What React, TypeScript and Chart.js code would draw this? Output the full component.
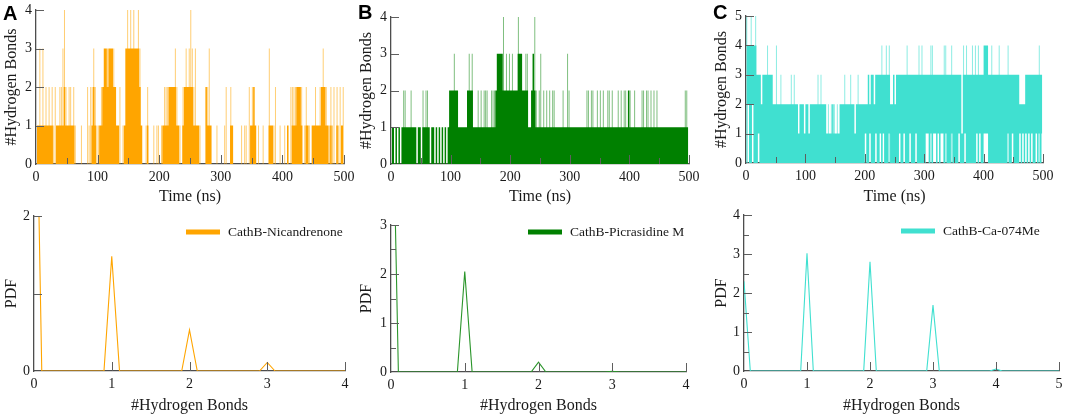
import React, { useEffect, useRef } from "react";
import { Chart, registerables } from "chart.js";

Chart.register(...registerables);

// ---- values ----
// Time traces are binned every 2.5 ns, one digit per bin, 50 bins (125 ns) per row.
// *Solid = top of the dense band, *Spike = highest short excursion in the bin,
// caFloor = bottom of the dense band (white gap below it).
const BIN_NS = 2.5;
const BINS_PER_ROW = 50;

const timeTicks = [0, 100, 200, 300, 400, 500];

const nicSolid = [
    "1111111111 1001111121 1111100000 0000001210 0112332333",
    "2211000133 3333333210 0010000000 0011112222 2110012222",
    "2211110000 2111000000 0000001100 0000000001 1210000000",
    "0111000000 0001001112 2210011001 1111122211 0100010011",
];
const nicSpike = [
    "1131312121 2121122342 1221210001 0002122321 1122333333",
    "3211201134 3434334310 0120001011 0112222222 3211022323",
    "4323111000 2231000100 0012002100 0001011021 2210100100",
    "0311120010 0101022222 2220121101 1211223221 1212021212",
];

const picSolid = [
    "1101010111 1111111011 0111110110 1010101012 2222211111",
    "1222211111 1111111111 2333322222 2222233322 2211232111",
    "1111111111 1111111111 1111111111 1111111111 1111111111",
    "1111111112 1111111111 1111111111 1111111111 1111111111",
];
const picSpike = [
    "1101010122 1112111011 0212210110 1010101012 2232211111",
    "1232311121 2122211222 2333342323 2322243322 3311234212",
    "3121212122 1111121132 1111111111 1221221121 2121122121",
    "1121212212 2112111122 1221212121 1111111111 1111111221",
];

const caSolid = [
    "4444444333 2333333322 2222222222 2222212221 2212222222",
    "2222111121 1112222222 2221222222 2232332333 3333333223",
    "2333333333 3333333333 3333333333 3333333333 3333313333",
    "3333333333 4443333333 3333333333 3333222233 3333333333",
];
const caFloor = [
    "0200200010 0000000000 0000000000 0000000000 0000000000",
    "0000000000 0000000000 0000000000 1001000100 1010001000",
    "0001001000 1000100000 0110101101 0110100010 0001000100",
    "0000010100 1110000000 0000001001 0000101010 1010010101",
];
const caSpike = [
    "5445445333 2333433322 4223222222 3232212221 2212222232",
    "3222121222 1212223222 3221232222 2232332333 3433434223",
    "2333333343 3333334343 3333443333 3334433343 3333314343",
    "3343434333 4443343333 4333334333 3333222233 3333333433",
];

// probability density of the bond count
const pdfBonds = [0, 0.1, 0.9, 1, 1.1, 1.9, 2, 2.1, 2.9, 3, 3.1, 3.9, 4, 4.1, 5];
const pdfNic = [5.6, 0, 0, 1.48, 0, 0, 0.53, 0, 0, 0.11, 0, 0, 0, 0, 0];
const pdfPic = [7.5, 0, 0, 2.05, 0, 0, 0.2, 0, 0, 0.015, 0, 0, 0, 0, 0];
const pdfCa = [2.3, 0, 0, 3.02, 0, 0, 2.8, 0, 0, 1.69, 0, 0, 0.05, 0, 0];

// ---- styling ----
const INK = "#1a1a1a";
const AXIS = "#4d4d4d";
const TICK = "#5e5e5e";

Chart.defaults.font.family = "'Liberation Serif', 'Times New Roman', serif";
Chart.defaults.color = INK;

const digits = (rows: string[]) =>
    rows.map((r) => r.replace(/\s+/g, "").split("").map(Number));

const binX = (r: number, j: number) => (r * BINS_PER_ROW + j + 0.5) * BIN_NS;

function levelData(rows: string[]) {
    const out: { x: number; y: number }[] = [];
    digits(rows).forEach((row, r) => row.forEach((v, j) => out.push({ x: binX(r, j), y: v })));
    return out;
}

function spikeData(spike: string[], solid: string[]) {
    const p = digits(spike);
    const s = digits(solid);
    const out: { x: number; y: number[] }[] = [];
    p.forEach((row, r) =>
        row.forEach((v, j) => {
            if (v > (s[r][j] ?? 0)) out.push({ x: binX(r, j), y: [0, v] });
        })
    );
    return out;
}

const midpoints = (t: number[]) => t.slice(1).map((v, i) => (v + t[i]) / 2);
const range = (lo: number, hi: number, step: number) => {
    const out: number[] = [];
    for (let v = lo; v <= hi + 1e-9; v += step) out.push(v);
    return out;
};

type Box = { left: number; top: number; width: number; height: number };
type Plot = { left: number; top: number; right: number; bottom: number };

function innerTicks(xMajor: number[], xMinor: number[], yMajor: number[], yMinor: number[]) {
    return {
        id: "innerTicks",
        afterDatasetsDraw(chart: any) {
            const { ctx, chartArea: a, scales } = chart;
            ctx.save();
            ctx.strokeStyle = TICK;
            ctx.lineWidth = 1;
            ctx.beginPath();
            const vx = (v: number, len: number) => {
                const p = Math.round(scales.x.getPixelForValue(v)) + 0.5;
                ctx.moveTo(p, a.bottom);
                ctx.lineTo(p, a.bottom - len);
            };
            const hy = (v: number, len: number) => {
                const p = Math.round(scales.y.getPixelForValue(v)) + 0.5;
                ctx.moveTo(a.left, p);
                ctx.lineTo(a.left + len, p);
            };
            xMajor.forEach((v) => vx(v, 9));
            xMinor.forEach((v) => vx(v, 6));
            yMajor.forEach((v) => hy(v, 8));
            yMinor.forEach((v) => hy(v, 5));
            ctx.stroke();
            ctx.restore();
        },
    };
}

function lineLegend(label: string, color: string, dx: number, dy: number) {
    return {
        id: "lineLegend",
        afterDraw(chart: any) {
            const { ctx, chartArea: a } = chart;
            const x = a.left + dx;
            const y = a.top + dy;
            ctx.save();
            ctx.strokeStyle = color;
            ctx.lineWidth = 5;
            ctx.beginPath();
            ctx.moveTo(x, y);
            ctx.lineTo(x + 34, y);
            ctx.stroke();
            ctx.fillStyle = INK;
            ctx.font = "13.5px 'Liberation Serif'";
            ctx.textBaseline = "middle";
            ctx.fillText(label, x + 42, y + 0.5);
            ctx.restore();
        },
    };
}

function axes(
    box: Box,
    plot: Plot,
    xMax: number,
    xStep: number,
    yMax: number,
    xTitle: string,
    yTitle: string,
    yLabel?: (v: number) => string
) {
    const yWidth = plot.left - box.left;
    const xHeight = box.top + box.height - plot.bottom;
    return {
        layout: {
            padding: {
                left: 0,
                top: plot.top - box.top,
                right: box.left + box.width - plot.right,
                bottom: 0,
            },
        },
        scales: {
            x: {
                type: "linear",
                min: 0,
                max: xMax,
                offset: false,
                z: 1,
                grid: { display: false, drawTicks: false },
                border: { display: true, color: AXIS, width: 1.3 },
                ticks: {
                    stepSize: xStep,
                    padding: 5,
                    maxRotation: 0,
                    autoSkip: false,
                    color: INK,
                    font: { size: 14 },
                },
                title: {
                    display: true,
                    text: xTitle,
                    color: INK,
                    font: { size: 16 },
                    padding: { top: 2, bottom: 2 },
                },
                afterFit: (s: any) => {
                    s.height = xHeight;
                    s.paddingLeft = 0;
                    s.paddingRight = 0;
                },
            },
            y: {
                type: "linear",
                min: 0,
                max: yMax,
                z: 1,
                grid: { display: false, drawTicks: false },
                border: { display: true, color: AXIS, width: 1.3 },
                ticks: {
                    stepSize: 1,
                    padding: 4,
                    color: INK,
                    font: { size: 14 },
                    callback: yLabel ? (v: any) => yLabel(Number(v)) : (v: any) => String(v),
                },
                title: {
                    display: true,
                    text: yTitle,
                    color: INK,
                    font: { size: 16 },
                    padding: { top: 1, bottom: 1 },
                },
                afterFit: (s: any) => {
                    s.width = yWidth;
                    s.paddingTop = 0;
                    s.paddingBottom = 0;
                },
            },
        },
    };
}

function traceConfig(
    box: Box,
    plot: Plot,
    solid: string[],
    spike: string[],
    floor: string[] | undefined,
    color: string,
    light: string,
    yMax: number
) {
    const ax = axes(box, plot, 500, 100, yMax, "Time (ns)", "#Hydrogen Bonds");
    const datasets: any[] = [
        {
            type: "line",
            data: levelData(solid),
            stepped: "middle",
            borderWidth: 0,
            pointRadius: 0,
            backgroundColor: color,
            fill: floor ? 1 : "origin",
            order: 1,
        },
    ];
    if (floor) {
        datasets.push({
            type: "line",
            data: levelData(floor),
            stepped: "middle",
            borderWidth: 0,
            pointRadius: 0,
            fill: false,
            order: 1,
        });
    }
    datasets.push({
        type: "bar",
        data: spikeData(spike, solid),
        backgroundColor: light,
        borderWidth: 0,
        grouped: false,
        barThickness: 1,
        inflateAmount: 0,
        order: 2,
    });
    return {
        type: "bar",
        data: { datasets },
        options: {
            animation: false,
            responsive: false,
            events: [],
            ...ax,
            plugins: { legend: { display: false }, tooltip: { enabled: false } },
        },
        plugins: [
            innerTicks(timeTicks.slice(1), midpoints(timeTicks), range(1, yMax, 1), []),
        ],
    };
}

function pdfConfig(
    box: Box,
    plot: Plot,
    values: number[],
    color: string,
    keyColor: string,
    xMax: number,
    yMax: number,
    label: string,
    legendAt: [number, number],
    yMinor: number[],
    yLabel?: (v: number) => string
) {
    const ax = axes(box, plot, xMax, 1, yMax, "#Hydrogen Bonds", "PDF", yLabel);
    return {
        type: "line",
        data: {
            datasets: [
                {
                    data: pdfBonds.map((b, i) => ({ x: b, y: values[i] })),
                    borderColor: color,
                    borderWidth: 1.1,
                    pointRadius: 0,
                    tension: 0,
                    fill: false,
                },
            ],
        },
        options: {
            animation: false,
            responsive: false,
            events: [],
            ...ax,
            plugins: { legend: { display: false }, tooltip: { enabled: false } },
        },
        plugins: [
            innerTicks(range(1, xMax, 1), [], range(1, yMax, 1), yMinor),
            lineLegend(label, keyColor, legendAt[0], legendAt[1]),
        ],
    };
}

function Panel({ box, make }: { box: Box; make: () => any }) {
    const ref = useRef<HTMLCanvasElement | null>(null);

    useEffect(() => {
        if (!ref.current) return;
        const chart = new Chart(ref.current, make());
        return () => chart.destroy();
    }, []);

    return (
        <canvas
            ref={ref}
            width={box.width}
            height={box.height}
            style={{
                position: "absolute",
                left: box.left,
                top: box.top,
                width: box.width,
                height: box.height,
            }}
        />
    );
}

const letterStyle = (left: number, top: number): React.CSSProperties => ({
    position: "absolute",
    left,
    top,
    font: "bold 20px 'Liberation Sans', Arial, sans-serif",
    lineHeight: 1,
    color: "#000",
});

const boxes = {
    topA: { left: 1, top: 0, width: 357, height: 208 },
    topB: { left: 356, top: 0, width: 347, height: 208 },
    topC: { left: 711, top: 0, width: 346, height: 208 },
    botA: { left: 1, top: 205, width: 354, height: 212 },
    botB: { left: 356, top: 205, width: 340, height: 212 },
    botC: { left: 711, top: 205, width: 354, height: 212 },
};

const plots = {
    topA: { left: 36, top: 10, right: 344, bottom: 164 },
    topB: { left: 391, top: 17, right: 689, bottom: 164 },
    topC: { left: 746, top: 16, right: 1043, bottom: 163 },
    botA: { left: 34, top: 216, right: 345, bottom: 371 },
    botB: { left: 391, top: 225, right: 686, bottom: 372 },
    botC: { left: 744, top: 215, right: 1059, bottom: 371 },
};

export default function App() {
    return (
        <div
            style={{
                position: "fixed",
                left: 0,
                top: 0,
                width: 1065,
                height: 418,
                background: "#fff",
                overflow: "hidden",
            }}
        >
            <Panel
                box={boxes.topA}
                make={() =>
                    traceConfig(boxes.topA, plots.topA, nicSolid, nicSpike, undefined,
                        "#FFA500", "rgba(255,165,0,0.55)", 4)
                }
            />
            <Panel
                box={boxes.topB}
                make={() =>
                    traceConfig(boxes.topB, plots.topB, picSolid, picSpike, undefined,
                        "#008000", "rgba(0,128,0,0.5)", 4)
                }
            />
            <Panel
                box={boxes.topC}
                make={() =>
                    traceConfig(boxes.topC, plots.topC, caSolid, caSpike, caFloor,
                        "#40E0D0", "rgba(64,224,208,0.6)", 5)
                }
            />
            <Panel
                box={boxes.botA}
                make={() =>
                    pdfConfig(boxes.botA, plots.botA, pdfNic, "#FFA500", "#FFA500", 4, 2,
                        "CathB-Nicandrenone", [152, 16], [],
                        (v) => (v === 0 || v === 2 ? String(v) : ""))
                }
            />
            <Panel
                box={boxes.botB}
                make={() =>
                    pdfConfig(boxes.botB, plots.botB, pdfPic, "#2a952a", "#008000", 4, 3,
                        "CathB-Picrasidine M", [137, 7], midpoints(range(0, 3, 1)))
                }
            />
            <Panel
                box={boxes.botC}
                make={() =>
                    pdfConfig(boxes.botC, plots.botC, pdfCa, "#40E0D0", "#40E0D0", 5, 4,
                        "CathB-Ca-074Me", [157, 16], midpoints(range(0, 4, 1)))
                }
            />
            <div style={letterStyle(3, 3)}>A</div>
            <div style={letterStyle(358, 2)}>B</div>
            <div style={letterStyle(713, 2)}>C</div>
        </div>
    );
}
